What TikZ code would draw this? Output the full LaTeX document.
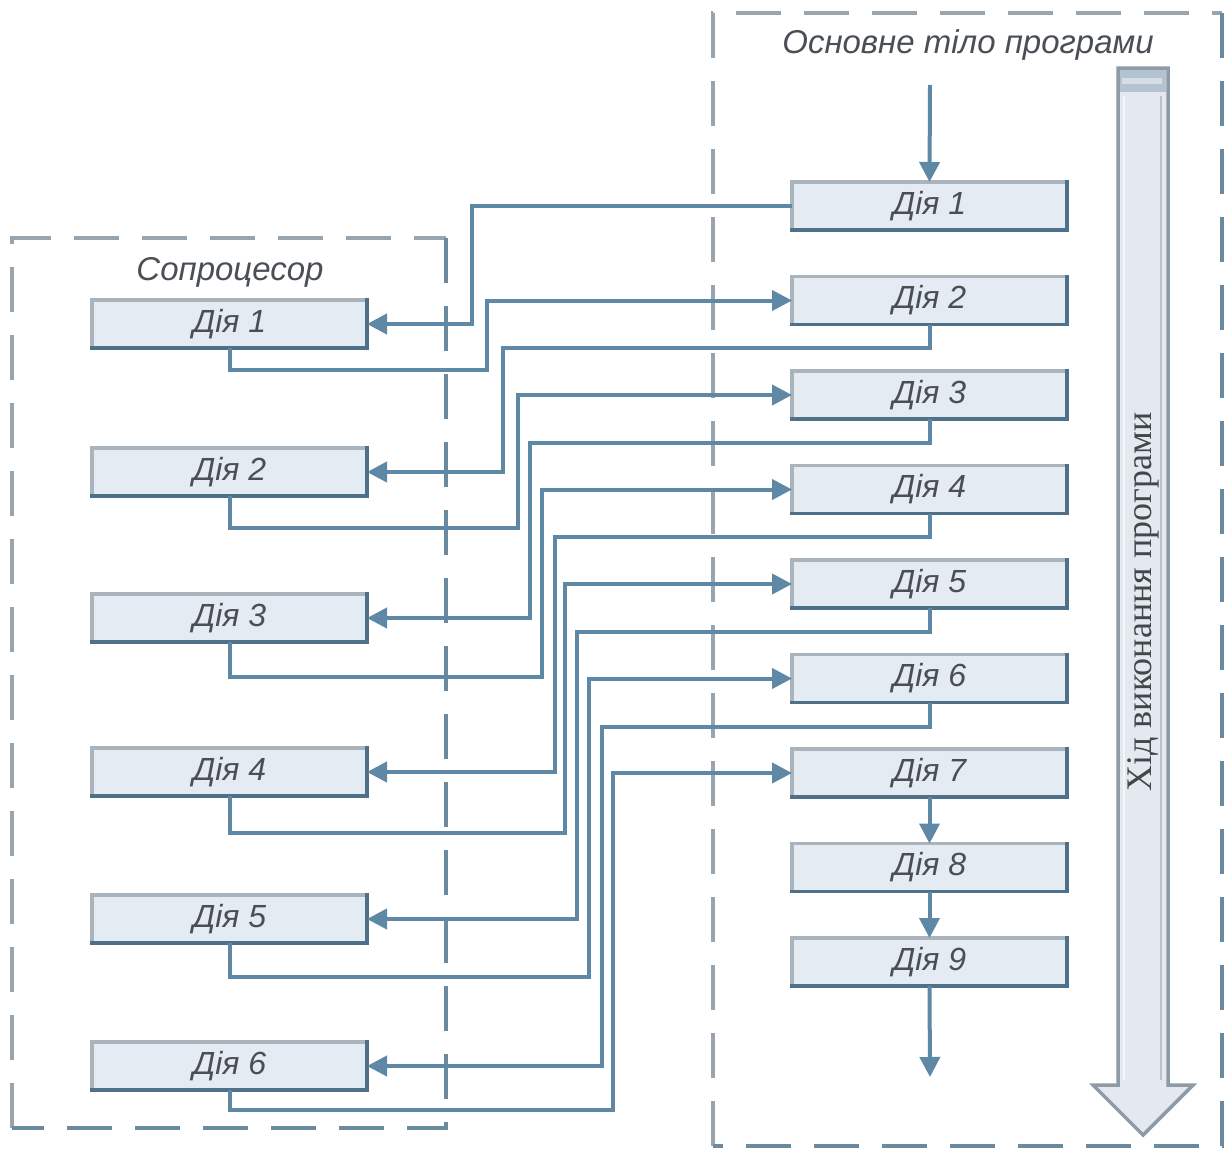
\documentclass[tikz,border=0pt]{standalone}
\usepackage{fontspec}
\setmainfont{Liberation Serif}
\setsansfont{Liberation Sans}
\usetikzlibrary{arrows.meta}

\definecolor{flow}{HTML}{5E88A6}
\definecolor{boxfill}{HTML}{E5EBF3}
\definecolor{edgelight}{HTML}{A9B4BD}
\definecolor{edgedark}{HTML}{4E7089}
\definecolor{framelight}{HTML}{98A5AF}
\definecolor{framedark}{HTML}{6A8AA0}
\definecolor{labeltext}{HTML}{4A4F55}
\definecolor{bigfill}{HTML}{E4E9F0}
\definecolor{bigedge}{HTML}{8E9BA6}
\definecolor{bigband}{HTML}{B3C3D0}

\begin{document}
\begin{tikzpicture}[x=1pt,y=-1pt,
  act/.style={minimum width=275pt, minimum height=48pt, inner sep=0pt, outer sep=0pt,
    fill=boxfill, draw=edgelight, line width=3.5pt,
    font=\sffamily\itshape\fontsize{32}{38}\selectfont, text=labeltext},
  title/.style={font=\sffamily\itshape\fontsize{33}{40}\selectfont, text=labeltext, inner sep=0pt},
  link/.style={draw=flow, line width=4pt},
  tip/.style={-{Triangle[length=20pt,width=20pt]}},
  framepart/.style={line width=4pt, dash pattern=on 45pt off 23pt}
]
\useasboundingbox (0,0) rectangle (1229,1151);
\fill[white] (0,0) rectangle (1229,1151);

% dashed frames: lighter top/left, darker right/bottom
\draw[framepart, framelight] (713,1146) -- (713,13) -- (1222,13);
\draw[framepart, framedark] (1222,13) -- (1222,1146) -- (713,1146);
\draw[framepart, framelight] (12,1128) -- (12,238) -- (446,238);
\draw[framepart, framedark] (446,238) -- (446,1128) -- (12,1128);

% frame titles
\node[title] (maintitle) at (968,45) {Основне тіло програми};
\node[title] (cotitle) at (230,272) {Сопроцесор};

% execution-progress arrow
\filldraw[fill=bigfill, draw=bigedge, line width=3.5pt, line join=miter]
  (1118,68) -- (1168,68) -- (1168,1085) -- (1193,1085) -- (1143,1135)
  -- (1093,1085) -- (1118,1085) -- cycle;
\fill[bigband] (1120,70) rectangle (1166,92);
\fill[bigfill!70!bigband] (1122,78) rectangle (1162,84);
\draw[white!60!bigfill, line width=1.5pt] (1124,96) -- (1124,1080);
\draw[bigedge!50!bigfill, line width=1.5pt] (1161,96) -- (1161,1080);
\node[rotate=90, font=\fontsize{36}{42}\selectfont, text=labeltext!90!black] (progress) at (1143,602)
  {Хід виконання програми};

% main program actions
\foreach \k in {1,...,9}
  \node[act] (m\k) at (929.5,{206+94.5*(\k-1)}) {Дія \k};

% coprocessor actions
\node[act] (c1) at (229.5,324) {Дія 1};
\node[act] (c2) at (229.5,472) {Дія 2};
\node[act] (c3) at (229.5,618) {Дія 3};
\node[act] (c4) at (229.5,772) {Дія 4};
\node[act] (c5) at (229.5,919) {Дія 5};
\node[act] (c6) at (229.5,1066) {Дія 6};

% darker right and bottom edges of the action boxes
\foreach \n in {m1,m2,m3,m4,m5,m6,m7,m8,m9,c1,c2,c3,c4,c5,c6}
  \draw[edgedark, line width=3.5pt, line cap=rect] (\n.north east) -- (\n.south east) -- (\n.south west);

% bend points of the exchange connectors
\coordinate (b1) at (472,206);
\coordinate (b2) at (487,370);
\coordinate (b3) at (503,348);
\coordinate (b4) at (518,528);
\coordinate (b5) at (530,443);
\coordinate (b6) at (542,677);
\coordinate (b7) at (555,537);
\coordinate (b8) at (565,833);
\coordinate (b9) at (577,632);
\coordinate (b10) at (589,977);
\coordinate (b11) at (602,727);
\coordinate (b12) at (613,1110);
\coordinate (start) at (930,85);
\coordinate (finish) at (930,1077);

% main flow
\draw[link, tip] (start) -- (m1.north);
\draw[link, tip] (m7.south) -- (m8.north);
\draw[link, tip] (m8.south) -- (m9.north);
\draw[link, tip] (m9.south) -- (finish);

% hand-over between the main program and the coprocessor
\draw[link, tip] (m1.west) -- (b1) |- (c1.east);
\draw[link, tip] (c1.south) |- (b2) |- (m2.west);
\draw[link, tip] (m2.south) |- (b3) |- (c2.east);
\draw[link, tip] (c2.south) |- (b4) |- (m3.west);
\draw[link, tip] (m3.south) |- (b5) |- (c3.east);
\draw[link, tip] (c3.south) |- (b6) |- (m4.west);
\draw[link, tip] (m4.south) |- (b7) |- (c4.east);
\draw[link, tip] (c4.south) |- (b8) |- (m5.west);
\draw[link, tip] (m5.south) |- (b9) |- (c5.east);
\draw[link, tip] (c5.south) |- (b10) |- (m6.west);
\draw[link, tip] (m6.south) |- (b11) |- (c6.east);
\draw[link, tip] (c6.south) |- (b12) |- (m7.west);
\end{tikzpicture}
\end{document}
